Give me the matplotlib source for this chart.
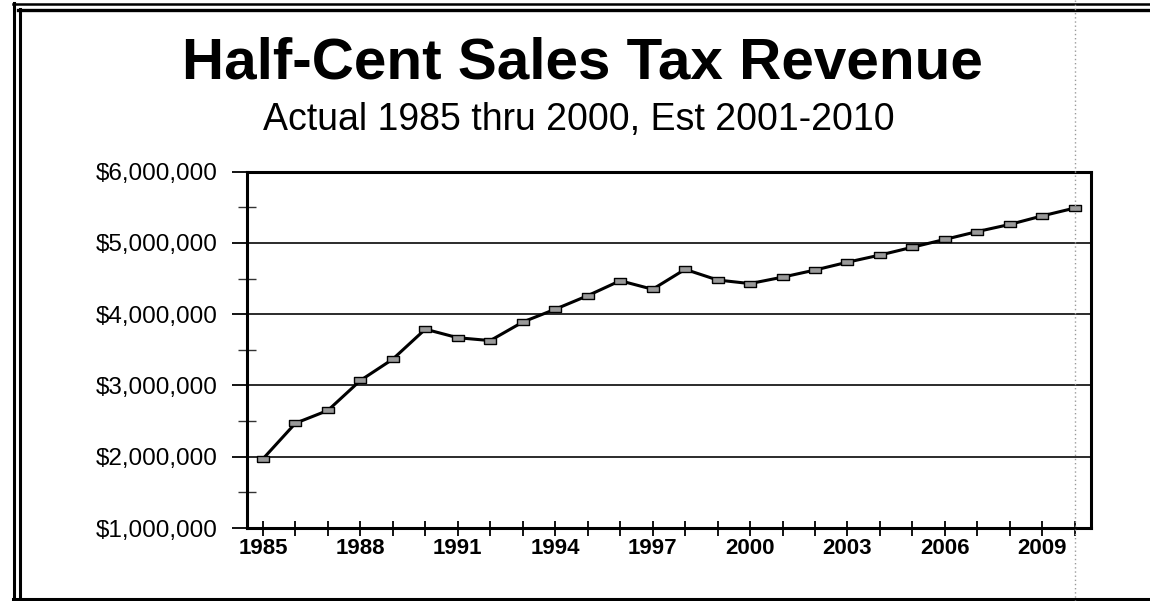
import matplotlib
matplotlib.use("Agg")
import matplotlib.pyplot as plt
from matplotlib.lines import Line2D
from matplotlib.ticker import FixedLocator, FuncFormatter
import numpy as np

plt.rcParams["font.family"] = ["Liberation Sans", "DejaVu Sans"]

# Half-cent sales tax revenue, actual 1985-2000 and estimated 2001-2010
years = list(range(1985, 2011))
revenue = [
    1970000, 2470000, 2650000, 3070000, 3370000, 3790000, 3670000, 3630000,
    3890000, 4070000, 4260000, 4470000, 4350000, 4630000, 4480000, 4430000,
    4520000, 4620000, 4730000, 4830000, 4940000, 5050000, 5160000, 5260000,
    5380000, 5490000,
]
y_ticks = [1000000, 2000000, 3000000, 4000000, 5000000, 6000000]
y_minor = [1500000, 2500000, 3500000, 4500000, 5500000]
labelled_years = list(range(1985, 2011, 3))

title = "Half-Cent Sales Tax Revenue"
subtitle = "Actual 1985 thru 2000, Est 2001-2010"

W, H = 1150, 601
fig = plt.figure(figsize=(W / 100, H / 100), dpi=100)
fig.patch.set_facecolor("white")

# plot area in pixel coordinates
x0, x1, y_top, y_bot = 246.7, 1091.0, 171.7, 528.0
ax = fig.add_axes([x0 / W, 1 - y_bot / H, (x1 - x0) / W, (y_bot - y_top) / H])

# rectangular marker, wider than tall
rect = [(-1, -0.6), (1, -0.6), (1, 0.6), (-1, 0.6), (-1, -0.6)]
ax.plot(years, revenue, color="black", lw=2.2, marker=rect, markersize=8,
        markerfacecolor="#9a9a9a", markeredgecolor="black", markeredgewidth=1.0,
        zorder=4, solid_joinstyle="round")

ax.set_xlim(1984.5, 2010.5)
ax.set_ylim(1000000, 6000000)

ax.yaxis.set_major_locator(FixedLocator(y_ticks))
ax.yaxis.set_minor_locator(FixedLocator(y_minor))
ax.yaxis.set_major_formatter(FuncFormatter(lambda v, p: "${:,.0f}".format(v)))
ax.xaxis.set_major_locator(FixedLocator(years))
ax.xaxis.set_major_formatter(
    FuncFormatter(lambda v, p: str(int(round(v))) if int(round(v)) in labelled_years else ""))

ax.yaxis.grid(True, which="major", color="#1a1a1a", lw=1.3)
ax.set_axisbelow(True)

for s in ax.spines.values():
    s.set_color("black")
    s.set_linewidth(2.2)

ax.tick_params(axis="y", which="major", direction="out", length=10.8, width=1.3,
               pad=10, labelsize=17.5, colors="black")
ax.tick_params(axis="y", which="minor", direction="inout", length=13, width=1.0,
               color="#333333")
ax.tick_params(axis="x", which="major", direction="inout", length=10.8, width=1.3,
               pad=2, labelsize=16, colors="black")
for lab in ax.get_xticklabels():
    lab.set_fontweight("bold")

# titles
fig.text(582.4 / W, 1 - 78.3 / H, title, ha="center", va="baseline",
         fontsize=42, fontweight="bold")
fig.text(579 / W, 1 - 130 / H, subtitle, ha="center", va="baseline",
         fontsize=27)

# page frame: double rule on top and left, single rule at the bottom
def hline(y, xa, xb, lw, color="black", ls="-"):
    fig.add_artist(Line2D([xa / W, xb / W], [1 - y / H, 1 - y / H],
                          transform=fig.transFigure, color=color, lw=lw, ls=ls))

def vline(x, ya, yb, lw, color="black", ls="-"):
    fig.add_artist(Line2D([x / W, x / W], [1 - ya / H, 1 - yb / H],
                          transform=fig.transFigure, color=color, lw=lw, ls=ls))

hline(4.0, 12.7, W, 1.8)
hline(10.0, 18.3, W, 2.4)
hline(598.5, 12.7, W, 2.2)
vline(14.3, 3.0, 600, 2.2)
vline(20.0, 9.0, 598, 2.2)
vline(1074.5, 0, H, 1.0, color="#9a9a9a", ls=(0, (1, 2)))

fig.savefig("out.png", dpi=100, facecolor="white")
